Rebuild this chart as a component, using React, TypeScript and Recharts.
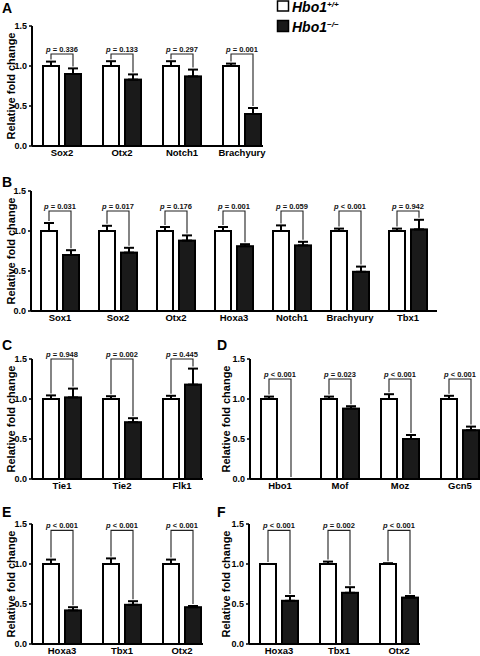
import React from "react";
import { BarChart, Bar, XAxis, YAxis, ErrorBar } from "recharts";

const FONT = '"Liberation Sans", Arial, Helvetica, sans-serif';
const Y_MAX = 1.5;
const BAR = 16;
const GAP = 6;

// A
const genesA = ["Sox2", "Otx2", "Notch1", "Brachyury"];
const wtA = [1, 1, 1, 1];
const wtErrA = [0.055, 0.06, 0.06, 0.03];
const koA = [0.9, 0.83, 0.87, 0.4];
const koErrA = [0.07, 0.065, 0.085, 0.075];
const pA = ["= 0.336", "= 0.133", "= 0.297", "= 0.001"];
const bracketA = 1.15;

// B
const genesB = ["Sox1", "Sox2", "Otx2", "Hoxa3", "Notch1", "Brachyury", "Tbx1"];
const wtB = [1, 1, 1, 1, 1, 1, 1];
const wtErrB = [0.1, 0.065, 0.05, 0.05, 0.07, 0.03, 0.03];
const koB = [0.7, 0.73, 0.88, 0.81, 0.82, 0.49, 1.02];
const koErrB = [0.06, 0.06, 0.065, 0.025, 0.045, 0.065, 0.12];
const pB = ["= 0.031", "= 0.017", "= 0.176", "= 0.001", "= 0.059", "< 0.001", "= 0.942"];
const bracketB = 1.25;

// C
const genesC = ["Tie1", "Tie2", "Flk1"];
const wtC = [1, 1, 1];
const wtErrC = [0.045, 0.035, 0.04];
const koC = [1.02, 0.71, 1.18];
const koErrC = [0.11, 0.05, 0.2];
const pC = ["= 0.948", "= 0.002", "= 0.445"];
const bracketC = 1.5;

// D
const genesD = ["Hbo1", "Mof", "Moz", "Gcn5"];
const wtD = [1, 1, 1, 1];
const wtErrD = [0.03, 0.03, 0.06, 0.04];
const koD = [0, 0.88, 0.5, 0.61];
const koErrD = [0, 0.03, 0.05, 0.045];
const pD = ["< 0.001", "= 0.023", "< 0.001", "< 0.001"];
const bracketD = 1.25;

// E
const genesE = ["Hoxa3", "Tbx1", "Otx2"];
const wtE = [1, 1, 1];
const wtErrE = [0.055, 0.07, 0.055];
const koE = [0.42, 0.49, 0.46];
const koErrE = [0.04, 0.045, 0.015];
const pE = ["< 0.001", "< 0.001", "< 0.001"];
const bracketE = 1.42;

// F
const genesF = ["Hoxa3", "Tbx1", "Otx2"];
const wtF = [1, 1, 1];
const wtErrF = [0, 0.03, 0.01];
const koF = [0.54, 0.64, 0.58];
const koErrF = [0.06, 0.07, 0.02];
const pF = ["< 0.001", "= 0.002", "< 0.001"];
const bracketF = 1.42;

const yTicks = [0, 0.5, 1, 1.5];

// black bar + the p-value bracket joining it to its white partner
function KoBar(props: any) {
  const { x, y, width, height, payload, background } = props;
  const base = background && background.height ? background.y + background.height : y + height;
  const k = (background && background.height ? background.height : 120) / Y_MAX;
  const py = (v: number) => base - v * k;
  const kx = x + width / 2;
  const wx = kx - BAR - GAP;
  const ly = py(payload.level);
  return (
    <g>
      {height > 0 ? (
        <rect x={x} y={y} width={width} height={height} fill="#1a1a1a" stroke="#000" strokeWidth={2} />
      ) : null}
      <path
        d={`M${wx},${py(payload.wtTop) - 2}V${ly}H${kx}V${py(payload.koTop) - 2}`}
        fill="none"
        stroke="#222"
        strokeWidth={1.1}
      />
      <text
        x={(wx + kx) / 2}
        y={ly - 2}
        textAnchor="middle"
        fontSize={7.5}
        fontWeight="bold"
        fontFamily={FONT}
        fill="#111"
      >
        <tspan fontStyle="italic">p</tspan>
        {" " + payload.p}
      </text>
    </g>
  );
}

const yLabel = (props: any) => {
  const vb = props.viewBox || { x: 0, y: 0, width: 0, height: 0 };
  const cx = vb.x + 15;
  const cy = vb.y + vb.height / 2;
  return (
    <text
      x={cx}
      y={cy}
      transform={`rotate(-90 ${cx} ${cy})`}
      textAnchor="middle"
      fontSize={11}
      fontWeight="bold"
      fontFamily={FONT}
      fill="#000"
    >
      Relative fold change
    </text>
  );
};

interface PanelProps {
  left: number;
  top: number;
  width: number;
  height: number;
  mTop: number;
  mRight: number;
  yw: number;
  padRight: number;
  genes: string[];
  wt: number[];
  wtErr: number[];
  ko: number[];
  koErr: number[];
  p: string[];
  level: number;
}

function Panel(props: PanelProps) {
  const { left, top, width, height, mTop, mRight, yw, padRight, genes, wt, wtErr, ko, koErr, p, level } = props;
  const rows = genes.map((g, i) => ({
    gene: g,
    wt: wt[i],
    ko: ko[i],
    wtE: [0, wtErr[i]],
    koE: [0, koErr[i]],
    wtTop: wt[i] + wtErr[i],
    koTop: ko[i] + koErr[i],
    p: p[i],
    level,
  }));
  const tickStyle = { fontSize: 9.5, fontWeight: "bold", fill: "#000", fontFamily: FONT };
  return (
    <div style={{ position: "absolute", left, top }}>
      <BarChart
        width={width}
        height={height}
        data={rows}
        margin={{ top: mTop, right: mRight, bottom: 0, left: 0 }}
        barSize={BAR}
        barGap={GAP}
      >
        <XAxis
          dataKey="gene"
          height={height - mTop - 120}
          padding={{ left: 0, right: padRight }}
          interval={0}
          tickLine={false}
          tickSize={3}
          tickMargin={0}
          axisLine={{ stroke: "#000", strokeWidth: 2 }}
          tick={tickStyle}
        />
        <YAxis
          width={yw}
          domain={[0, Y_MAX]}
          ticks={yTicks}
          tickFormatter={(v: number) => v.toFixed(1)}
          tickSize={3}
          tickMargin={2}
          axisLine={{ stroke: "#000", strokeWidth: 2 }}
          tickLine={{ stroke: "#000", strokeWidth: 1.5 }}
          tick={{ ...tickStyle, fontSize: 9 }}
          label={yLabel}
        />
        <Bar dataKey="wt" fill="#fff" stroke="#000" strokeWidth={2} isAnimationActive={false}>
          <ErrorBar dataKey="wtE" width={5} stroke="#000" strokeWidth={2} direction="y" />
        </Bar>
        <Bar dataKey="ko" fill="#1a1a1a" shape={KoBar} isAnimationActive={false}>
          <ErrorBar dataKey="koE" width={5} stroke="#000" strokeWidth={2} direction="y" />
        </Bar>
      </BarChart>
    </div>
  );
}

function Overlay() {
  const letter = { fontSize: 14, fontWeight: "bold", fontFamily: FONT, fill: "#000" } as const;
  const leg = { fontSize: 14, fontWeight: "bold", fontStyle: "italic", fontFamily: FONT, fill: "#000" } as const;
  return (
    <svg
      width={480}
      height={656}
      style={{ position: "absolute", left: 0, top: 0, pointerEvents: "none" }}
    >
      <text x={2} y={13} {...letter}>A</text>
      <text x={2} y={187} {...letter}>B</text>
      <text x={2} y={350} {...letter}>C</text>
      <text x={217} y={350} {...letter}>D</text>
      <text x={2} y={517} {...letter}>E</text>
      <text x={217} y={517} {...letter}>F</text>
      <rect x={277.5} y={1} width={11} height={10} fill="#fff" stroke="#000" strokeWidth={1.5} />
      <text x={292} y={11.5} {...leg}>
        Hbo1<tspan fontSize={8} dy={-5}>+/+</tspan>
      </text>
      <rect x={277.5} y={20.5} width={11} height={11} fill="#1a1a1a" stroke="#000" strokeWidth={1.5} />
      <text x={292} y={31.5} {...leg}>
        Hbo1<tspan fontSize={8} dy={-5}>−/−</tspan>
      </text>
    </svg>
  );
}

export default function App() {
  return (
    <div style={{ position: "absolute", left: 0, top: 0, width: 480, height: 656, background: "#fff" }}>
      <Panel left={0} top={0} width={275} height={165} mTop={26} mRight={12} yw={32} padRight={-9}
        genes={genesA} wt={wtA} wtErr={wtErrA} ko={koA} koErr={koErrA} p={pA} level={bracketA} />
      <Panel left={0} top={170} width={445} height={160} mTop={21} mRight={8} yw={31} padRight={0}
        genes={genesB} wt={wtB} wtErr={wtErrB} ko={koB} koErr={koErrB} p={pB} level={bracketB} />
      <Panel left={0} top={330} width={215} height={168} mTop={29} mRight={12} yw={32} padRight={-9}
        genes={genesC} wt={wtC} wtErr={wtErrC} ko={koC} koErr={koErrC} p={pC} level={bracketC} />
      <Panel left={215} top={330} width={265} height={168} mTop={29} mRight={0} yw={35} padRight={-10}
        genes={genesD} wt={wtD} wtErr={wtErrD} ko={koD} koErr={koErrD} p={pD} level={bracketD} />
      <Panel left={0} top={490} width={215} height={166} mTop={34} mRight={12} yw={32} padRight={-9}
        genes={genesE} wt={wtE} wtErr={wtErrE} ko={koE} koErr={koErrE} p={pE} level={bracketE} />
      <Panel left={215} top={490} width={215} height={166} mTop={34} mRight={10} yw={34} padRight={-9}
        genes={genesF} wt={wtF} wtErr={wtErrF} ko={koF} koErr={koErrF} p={pF} level={bracketF} />
      <Overlay />
    </div>
  );
}
